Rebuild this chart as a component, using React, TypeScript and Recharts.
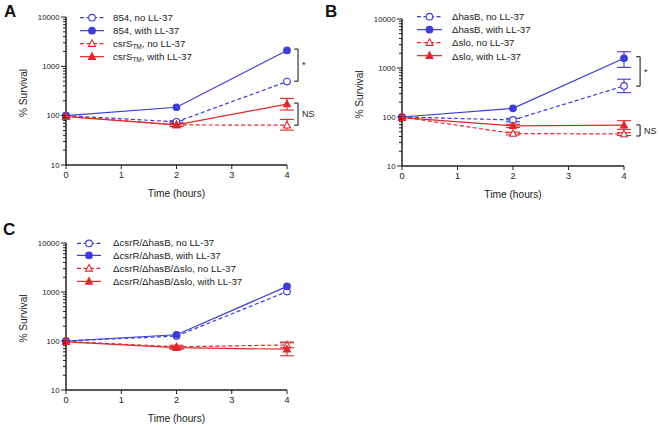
import React from "react";
import { LineChart, Line, XAxis, YAxis, ErrorBar, ReferenceLine } from "recharts";

const BLUE = "#3c3cd6";
const RED = "#e3262c";
const INK = "#222";
const FONT = '"Liberation Sans", Arial, Helvetica, sans-serif';

// shared axes
const TIMES = [0, 2, 4];
const X_TICKS = [0, 1, 2, 3, 4];
const DECADES = [10, 100, 1000];
const Y_TICKS = [...DECADES.flatMap((d) => [1, 2, 3, 4, 5, 6, 7, 8, 9].map((k) => k * d)), 10000];

// Panel A
const A_LABELS = ["854, no LL-37", "854, with LL-37", "csrS_TM, no LL-37", "csrS_TM, with LL-37"];
const A_854_NO = [100, 75, 490];
const A_854_LL = [100, 148, 2100];
const A_CSRS_NO = [98, 65, 64];
const A_CSRS_LL = [96, 65, 172];
const A_854_NO_RANGE = [null, [71, 79], null];
const A_854_LL_RANGE = [null, null, null];
const A_CSRS_NO_RANGE = [null, [61, 69], [51, 84]];
const A_CSRS_LL_RANGE = [null, [60, 71], [130, 224]];

// Panel B
const B_LABELS = ["ΔhasB, no LL-37", "ΔhasB, with LL-37", "Δslo, no LL-37", "Δslo, with LL-37"];
const B_HASB_NO = [100, 87, 430];
const B_HASB_LL = [100, 150, 1580];
const B_SLO_NO = [100, 46, 45];
const B_SLO_LL = [97, 66, 68];
const B_HASB_NO_RANGE = [null, [80, 94], [314, 590]];
const B_HASB_LL_RANGE = [null, null, [1030, 2150]];
const B_SLO_NO_RANGE = [null, [43, 49], [42, 48]];
const B_SLO_LL_RANGE = [null, [61, 71], [56, 84]];

// Panel C
const C_LABELS = [
    "ΔcsrR/ΔhasB, no LL-37",
    "ΔcsrR/ΔhasB, with LL-37",
    "ΔcsrR/ΔhasB/Δslo, no LL-37",
    "ΔcsrR/ΔhasB/Δslo, with LL-37",
];
const C_HASB_NO = [100, 126, 1020];
const C_HASB_LL = [100, 134, 1300];
const C_SLO_NO = [98, 76, 83];
const C_SLO_LL = [96, 73, 68];
const C_HASB_NO_RANGE = [null, null, null];
const C_HASB_LL_RANGE = [null, null, null];
const C_SLO_NO_RANGE = [null, [70, 82], [73, 95]];
const C_SLO_LL_RANGE = [null, [68, 78], [50, 92]];

// significance brackets
const A_BRACKETS = [
    { x: 4.2, lo: 500, hi: 2240, text: "*" },
    { x: 4.2, lo: 64, hi: 180, text: "NS" },
];
const B_BRACKETS = [
    { x: 4.29, lo: 427, hi: 1700, text: "*" },
    { x: 4.29, lo: 41, hi: 69, text: "NS" },
];

const STYLES = [
    { color: BLUE, dashed: true, shape: "circle", filled: false },
    { color: BLUE, dashed: false, shape: "circle", filled: true },
    { color: RED, dashed: true, shape: "triangle", filled: false },
    { color: RED, dashed: false, shape: "triangle", filled: true },
];

function buildRows(values: number[][], ranges: any[][]) {
    return TIMES.map((t, i) => {
        const row: any = { t };
        values.forEach((v, s) => {
            row[`s${s}`] = v[i];
            const r = ranges[s][i];
            row[`e${s}`] = r ? [v[i] - r[0], r[1] - v[i]] : null;
        });
        return row;
    });
}

const Marker = ({ cx, cy, style }: any) => {
    if (cx == null || cy == null) return null;
    const fill = style.filled ? style.color : "#fff";
    if (style.shape === "circle") {
        return <circle cx={cx} cy={cy} r={3.3} fill={fill} stroke={style.color} strokeWidth={1.1} />;
    }
    return (
        <polygon
            points={`${cx},${cy - 3.8} ${cx + 3.5},${cy + 2.7} ${cx - 3.5},${cy + 2.7}`}
            fill={fill}
            stroke={style.color}
            strokeWidth={1.1}
        />
    );
};

const LogTick = ({ x, y, payload }: any) => {
    const v = payload.value;
    const lg = Math.log10(v);
    const major = Math.abs(lg - Math.round(lg)) < 1e-6;
    const len = major ? 5 : 3;
    return (
        <g>
            <line x1={x - len} x2={x} y1={y} y2={y} stroke={INK} strokeWidth={1} />
            {major && (
                <text x={x - len - 1.5} y={y} dy="0.35em" textAnchor="end" fontSize={7.8} fill={INK}>
                    {v}
                </text>
            )}
        </g>
    );
};

const renderLabel = (lab: string) => {
    const parts = lab.split("_TM");
    if (parts.length < 2) return lab;
    return (
        <>
            {parts[0]}
            <sub style={{ fontSize: 6.5, verticalAlign: "-2px" }}>TM</sub>
            {parts[1]}
        </>
    );
};

const SeriesLegend = ({ labels, left, top, rowH, symW, gap }: any) => (
    <div style={{ position: "absolute", left, top, fontSize: 9.7, color: INK }}>
        {labels.map((lab: string, i: number) => {
            const s = STYLES[i];
            return (
                <div key={i} style={{ height: rowH, display: "flex", alignItems: "center" }}>
                    <svg width={symW} height={rowH} style={{ marginRight: gap, overflow: "visible" }}>
                        <line
                            x1={0}
                            x2={symW}
                            y1={rowH / 2}
                            y2={rowH / 2}
                            stroke={s.color}
                            strokeWidth={1.2}
                            strokeDasharray={s.dashed ? "4 2.5" : undefined}
                        />
                        <Marker cx={symW / 2} cy={rowH / 2} style={s} />
                    </svg>
                    <span style={{ whiteSpace: "nowrap" }}>{renderLabel(lab)}</span>
                </div>
            );
        })}
    </div>
);

const Panel = ({ rows, brackets, width, height, margin, left, top }: any) => (
    <div style={{ position: "absolute", left, top }}>
        <LineChart width={width} height={height} data={rows} margin={margin}>
            <XAxis
                type="number"
                dataKey="t"
                domain={[0, 4]}
                ticks={X_TICKS}
                height={30}
                tickSize={4}
                tickMargin={2}
                tick={{ fontSize: 9.2, fill: INK }}
                axisLine={{ stroke: INK, strokeWidth: 1.5 }}
                tickLine={{ stroke: INK, strokeWidth: 1 }}
                label={{
                    content: ({ viewBox }: any) => (
                        <text
                            x={viewBox.x + viewBox.width / 2}
                            y={viewBox.y + 28}
                            dy="0.35em"
                            textAnchor="middle"
                            fontSize={10.2}
                            fill={INK}
                        >
                            Time (hours)
                        </text>
                    ),
                }}
            />
            <YAxis
                type="number"
                scale="log"
                domain={[10, 10000]}
                allowDataOverflow
                ticks={Y_TICKS}
                interval={0}
                width={46}
                tickSize={0}
                tickMargin={0}
                tickLine={false}
                tick={<LogTick />}
                axisLine={{ stroke: INK, strokeWidth: 1.5 }}
                label={{
                    content: ({ viewBox }: any) => {
                        const cx = viewBox.x + viewBox.width - 43;
                        const cy = viewBox.y + viewBox.height / 2 + 2;
                        return (
                            <text
                                x={cx}
                                y={cy}
                                dy="0.35em"
                                textAnchor="middle"
                                fontSize={10.2}
                                fill={INK}
                                transform={`rotate(-90 ${cx} ${cy})`}
                            >
                                % Survival
                            </text>
                        );
                    },
                }}
            />
            {STYLES.map((s, i) => (
                <Line
                    key={i}
                    type="linear"
                    dataKey={`s${i}`}
                    stroke={s.color}
                    strokeWidth={1.2}
                    strokeDasharray={s.dashed ? "4 2.5" : undefined}
                    dot={(p: any) => <Marker key={`d${i}-${p.index}`} cx={p.cx} cy={p.cy} style={s} />}
                    activeDot={false}
                    isAnimationActive={false}
                >
                    <ErrorBar dataKey={`e${i}`} width={7} stroke={s.color} strokeWidth={1.1} direction="y" />
                </Line>
            ))}
            {(brackets || []).flatMap((b: any, k: number) => [
                <ReferenceLine
                    key={`v${k}`}
                    segment={[
                        { x: b.x, y: b.hi },
                        { x: b.x, y: b.lo },
                    ]}
                    stroke={INK}
                    strokeWidth={1.1}
                    ifOverflow="visible"
                    label={{ value: b.text, position: "right", fontSize: 9, fill: INK, offset: 4 }}
                />,
                <ReferenceLine
                    key={`h${k}`}
                    segment={[
                        { x: b.x - 0.07, y: b.hi },
                        { x: b.x, y: b.hi },
                    ]}
                    stroke={INK}
                    strokeWidth={1.1}
                    ifOverflow="visible"
                />,
                <ReferenceLine
                    key={`l${k}`}
                    segment={[
                        { x: b.x - 0.07, y: b.lo },
                        { x: b.x, y: b.lo },
                    ]}
                    stroke={INK}
                    strokeWidth={1.1}
                    ifOverflow="visible"
                />,
            ])}
        </LineChart>
    </div>
);

const letterStyle: React.CSSProperties = {
    position: "absolute",
    fontSize: 17,
    fontWeight: "bold",
    lineHeight: "17px",
    color: "#111",
};

export default function App() {
    const rowsA = buildRows(
        [A_854_NO, A_854_LL, A_CSRS_NO, A_CSRS_LL],
        [A_854_NO_RANGE, A_854_LL_RANGE, A_CSRS_NO_RANGE, A_CSRS_LL_RANGE]
    );
    const rowsB = buildRows(
        [B_HASB_NO, B_HASB_LL, B_SLO_NO, B_SLO_LL],
        [B_HASB_NO_RANGE, B_HASB_LL_RANGE, B_SLO_NO_RANGE, B_SLO_LL_RANGE]
    );
    const rowsC = buildRows(
        [C_HASB_NO, C_HASB_LL, C_SLO_NO, C_SLO_LL],
        [C_HASB_NO_RANGE, C_HASB_LL_RANGE, C_SLO_NO_RANGE, C_SLO_LL_RANGE]
    );

    return (
        <div
            style={{
                position: "fixed",
                left: 0,
                top: 0,
                width: 660,
                height: 426,
                background: "#fff",
                fontFamily: FONT,
                overflow: "hidden",
            }}
        >
            <Panel
                rows={rowsA}
                brackets={A_BRACKETS}
                width={330}
                height={210}
                left={0}
                top={0}
                margin={{ top: 17, right: 43, bottom: 15, left: 20 }}
            />
            <Panel
                rows={rowsB}
                brackets={B_BRACKETS}
                width={330}
                height={210}
                left={330}
                top={0}
                margin={{ top: 19, right: 36, bottom: 14, left: 26 }}
            />
            <Panel
                rows={rowsC}
                width={330}
                height={216}
                left={0}
                top={210}
                margin={{ top: 33, right: 43, bottom: 6, left: 20 }}
            />

            <SeriesLegend labels={A_LABELS} left={80} top={10.5} rowH={13.3} symW={24} gap={9} />
            <SeriesLegend labels={B_LABELS} left={417} top={9.5} rowH={13.3} symW={25} gap={10} />
            <SeriesLegend labels={C_LABELS} left={77} top={236.5} rowH={12.8} symW={24} gap={12} />

            <div style={{ ...letterStyle, left: 4, top: 3 }}>A</div>
            <div style={{ ...letterStyle, left: 325, top: 3 }}>B</div>
            <div style={{ ...letterStyle, left: 3, top: 221 }}>C</div>
        </div>
    );
}
